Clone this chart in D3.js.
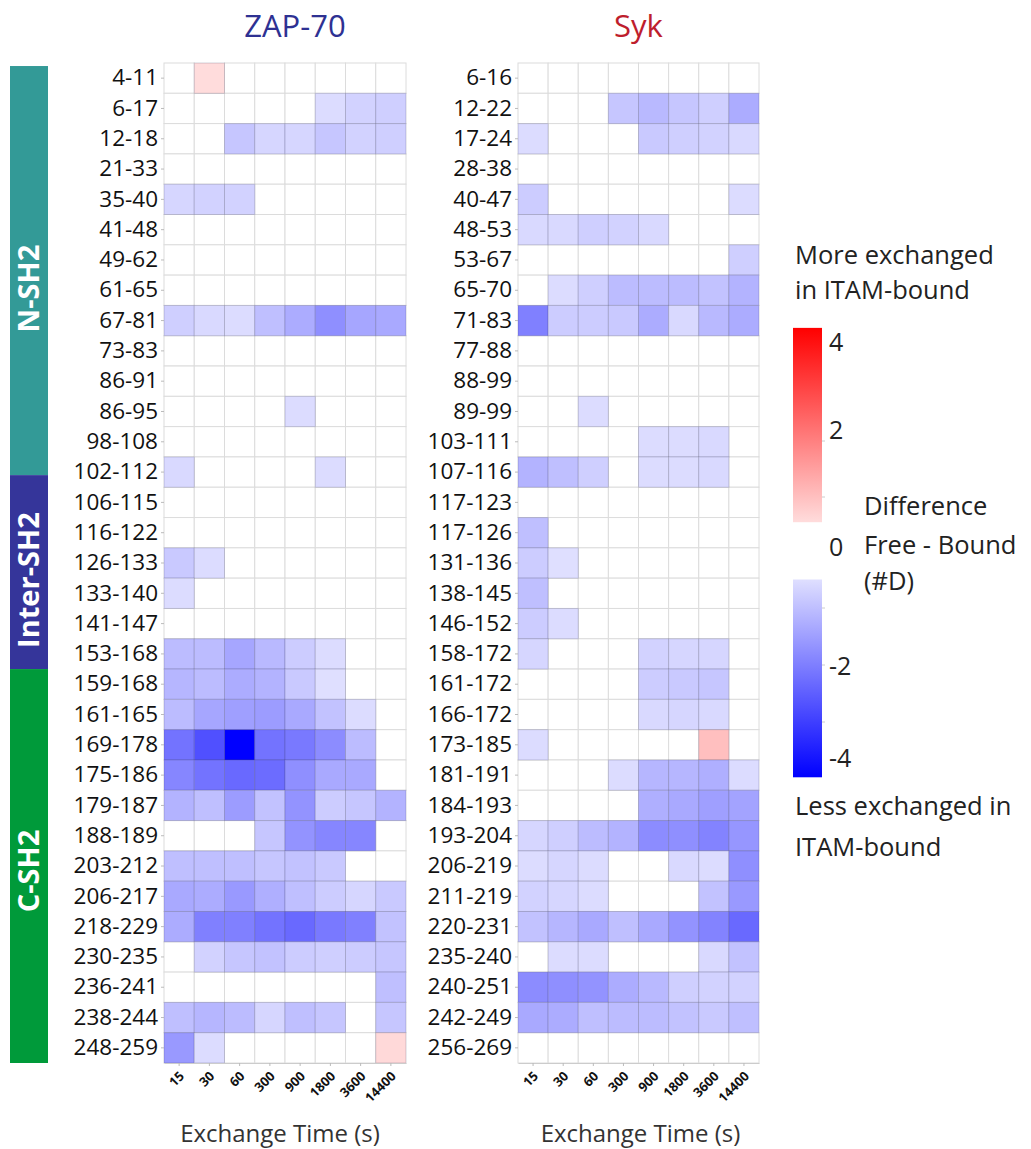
<!DOCTYPE html>
<html>
<head>
<meta charset="utf-8">
<script src="https://cdn.jsdelivr.net/npm/d3@7"></script>
<style>
  body { margin: 0; background: #fff; }
  svg { display: block; font-family: "Open Sans", sans-serif; }
</style>
</head>
<body>
<div id="chart"></div>
<script>
// exchange time columns
const times = ["15", "30", "60", "300", "900", "1800", "3600", "14400"];

// ZAP-70 peptides and difference values (#D, free - bound)
const zapRows = ["4-11", "6-17", "12-18", "21-33", "35-40", "41-48", "49-62", "61-65", "67-81", "73-83",
  "86-91", "86-95", "98-108", "102-112", "106-115", "116-122", "126-133", "133-140", "141-147",
  "153-168", "159-168", "161-165", "169-178", "175-186", "179-187", "188-189", "203-212", "206-217",
  "218-229", "230-235", "236-241", "238-244", "248-259"];
const zapValues = [
  [0, 0.55, 0, 0, 0, 0, 0, 0],
  [0, 0, 0, 0, 0, -0.55, -0.7, -0.75],
  [0, 0, -0.9, -0.65, -0.65, -0.9, -0.7, -0.75],
  [0, 0, 0, 0, 0, 0, 0, 0],
  [-0.65, -0.7, -0.7, 0, 0, 0, 0, 0],
  [0, 0, 0, 0, 0, 0, 0, 0],
  [0, 0, 0, 0, 0, 0, 0, 0],
  [0, 0, 0, 0, 0, 0, 0, 0],
  [-0.75, -0.6, -0.55, -1.0, -1.3, -1.75, -1.4, -1.35],
  [0, 0, 0, 0, 0, 0, 0, 0],
  [0, 0, 0, 0, 0, 0, 0, 0],
  [0, 0, 0, 0, -0.55, 0, 0, 0],
  [0, 0, 0, 0, 0, 0, 0, 0],
  [-0.6, 0, 0, 0, 0, -0.55, 0, 0],
  [0, 0, 0, 0, 0, 0, 0, 0],
  [0, 0, 0, 0, 0, 0, 0, 0],
  [-0.85, -0.55, 0, 0, 0, 0, 0, 0],
  [-0.55, 0, 0, 0, 0, 0, 0, 0],
  [0, 0, 0, 0, 0, 0, 0, 0],
  [-1.05, -1.05, -1.4, -1.1, -0.8, -0.55, 0, 0],
  [-1.15, -1.05, -1.3, -1.2, -0.85, -0.5, 0, 0],
  [-1.05, -1.4, -1.5, -1.55, -1.35, -0.95, -0.55, 0],
  [-2.2, -2.75, -4.0, -2.2, -2.1, -1.8, -1.05, 0],
  [-1.9, -2.2, -2.35, -2.3, -1.75, -1.35, -1.35, 0],
  [-1.2, -1.0, -1.55, -0.95, -1.7, -0.8, -0.9, -1.2],
  [0, 0, 0, -0.9, -1.7, -1.9, -1.9, 0],
  [-1.0, -1.0, -1.0, -0.9, -0.95, -0.85, 0, 0],
  [-1.35, -1.3, -1.6, -1.25, -1.0, -0.8, -0.65, -0.85],
  [-1.3, -2.0, -2.0, -2.2, -2.35, -2.1, -2.0, -0.95],
  [0, -0.7, -0.9, -0.95, -0.8, -0.75, -0.8, -0.9],
  [0, 0, 0, 0, 0, 0, 0, -1.0],
  [-1.0, -1.15, -1.05, -0.65, -1.0, -0.9, 0, -0.9],
  [-1.6, -0.55, 0, 0, 0, 0, 0, 0.6]
];

// Syk peptides and difference values
const sykRows = ["6-16", "12-22", "17-24", "28-38", "40-47", "48-53", "53-67", "65-70", "71-83", "77-88",
  "88-99", "89-99", "103-111", "107-116", "117-123", "117-126", "131-136", "138-145", "146-152",
  "158-172", "161-172", "166-172", "173-185", "181-191", "184-193", "193-204", "206-219", "211-219",
  "220-231", "235-240", "240-251", "242-249", "256-269"];
const sykValues = [
  [0, 0, 0, 0, 0, 0, 0, 0],
  [0, 0, 0, -0.9, -1.1, -0.9, -0.75, -1.3],
  [-0.55, 0, 0, 0, -0.85, -0.75, -0.7, -0.6],
  [0, 0, 0, 0, 0, 0, 0, 0],
  [-0.8, 0, 0, 0, 0, 0, 0, -0.55],
  [-0.6, -0.6, -0.75, -0.7, -0.6, 0, 0, 0],
  [0, 0, 0, 0, 0, 0, 0, -0.75],
  [0, -0.55, -0.75, -1.05, -1.05, -1.05, -0.95, -1.2],
  [-2.0, -0.8, -0.8, -0.85, -1.3, -0.6, -1.1, -1.3],
  [0, 0, 0, 0, 0, 0, 0, 0],
  [0, 0, 0, 0, 0, 0, 0, 0],
  [0, 0, -0.55, 0, 0, 0, 0, 0],
  [0, 0, 0, 0, -0.55, -0.55, -0.6, 0],
  [-1.2, -1.0, -0.75, 0, -0.55, -0.55, -0.6, 0],
  [0, 0, 0, 0, 0, 0, 0, 0],
  [-1.0, 0, 0, 0, 0, 0, 0, 0],
  [-0.8, -0.5, 0, 0, 0, 0, 0, 0],
  [-1.0, 0, 0, 0, 0, 0, 0, 0],
  [-0.8, -0.55, 0, 0, 0, 0, 0, 0],
  [-0.65, 0, 0, 0, -0.7, -0.65, -0.65, 0],
  [0, 0, 0, 0, -0.8, -0.85, -0.9, 0],
  [0, 0, 0, 0, -0.6, -0.65, -0.6, 0],
  [-0.55, 0, 0, 0, 0, 0, 1.0, 0],
  [0, 0, 0, -0.55, -1.15, -1.15, -1.25, -0.55],
  [0, 0, 0, 0, -1.25, -1.35, -1.5, -1.45],
  [-0.65, -0.75, -1.05, -1.2, -1.8, -1.75, -1.95, -1.65],
  [-0.55, -0.65, -0.55, 0, 0, -0.6, -0.55, -1.75],
  [-0.7, -0.65, -0.55, 0, 0, 0, -0.95, -1.6],
  [-0.95, -1.15, -1.35, -1.0, -1.35, -1.7, -1.95, -2.35],
  [0, -0.55, -0.55, 0, 0, 0, -0.6, -0.95],
  [-1.8, -1.75, -1.7, -1.3, -1.1, -0.75, -0.7, -0.7],
  [-1.35, -1.3, -1.0, -1.05, -1.05, -0.95, -0.85, -1.0],
  [0, 0, 0, 0, 0, 0, 0, 0]
];

// domain bar (in row units of the heatmap)
const domainNames = ["N-SH2", "Inter-SH2", "C-SH2"];
const domainStart = [0.1, 13.6, 20.0];
const domainEnd = [13.6, 20.0, 33.0];

const domainColor = d3.scaleOrdinal()
  .domain(domainNames)
  .range(["#339a97", "#35359a", "#009a3a"]);

const color = d3.scaleLinear()
  .domain([-4, 0, 4])
  .range(["#0000ff", "#ffffff", "#ff0000"])
  .clamp(true);

const width = 1031, height = 1149;
const plotTop = 63, plotBottom = 1063;

const svg = d3.select("#chart").append("svg")
  .attr("width", width)
  .attr("height", height);

function heatmap(rows, values, left, right, title, titleColor, titleShift, xTitleShift) {
  const x = d3.scaleBand().domain(times).range([left, right]);
  const y = d3.scaleBand().domain(rows).range([plotTop, plotBottom]);
  const g = svg.append("g");

  const cells = [];
  rows.forEach((r, i) => times.forEach((t, j) => cells.push({ r, t, v: values[i][j] })));

  // white cells first so coloured borders sit on top
  cells.sort((a, b) => (a.v !== 0) - (b.v !== 0));

  g.selectAll("rect")
    .data(cells)
    .join("rect")
      .attr("x", d => x(d.t))
      .attr("y", d => y(d.r))
      .attr("width", x.bandwidth())
      .attr("height", y.bandwidth())
      .attr("fill", d => color(d.v))
      .attr("stroke", d => d.v === 0 ? "#dcdcdc" : "rgba(60,60,90,0.22)")
      .attr("stroke-width", 1);

  const ya = g.append("g")
    .attr("transform", `translate(${left},0)`)
    .call(d3.axisLeft(y).tickSize(3).tickPadding(3));
  ya.select(".domain").remove();
  ya.selectAll("line").attr("stroke", "#bbb");
  ya.selectAll("text")
    .attr("font-size", 22.5)
    .attr("fill", "#111")
    .style("font-family", "'Open Sans', sans-serif");

  const xa = g.append("g")
    .attr("transform", `translate(0,${plotBottom})`)
    .call(d3.axisBottom(x).tickSize(3).tickSizeOuter(0));
  xa.select(".domain").attr("stroke", "#ccc");
  xa.selectAll("line").attr("stroke", "#bbb");
  xa.selectAll("text")
    .attr("font-size", 13)
    .attr("font-weight", "bold")
    .attr("fill", "#111")
    .attr("text-anchor", "end")
    .attr("y", 0)
    .attr("dy", 0)
    .attr("transform", "translate(6,14) rotate(-45)")
    .style("font-family", "'Open Sans', sans-serif");

  svg.append("text")
    .attr("x", (left + right) / 2 + titleShift)
    .attr("y", 37)
    .attr("text-anchor", "middle")
    .attr("font-size", 31)
    .attr("fill", titleColor)
    .text(title);

  svg.append("text")
    .attr("x", (left + right) / 2 + xTitleShift)
    .attr("y", 1142)
    .attr("text-anchor", "middle")
    .attr("font-size", 24)
    .attr("fill", "#333")
    .text("Exchange Time (s)");

  return y;
}

heatmap(zapRows, zapValues, 164, 406, "ZAP-70", "#2e3192", 10, -5);
heatmap(sykRows, sykValues, 518, 759, "Syk", "#be1e2d", 0, 2);

// domain bar
const rowY = d3.scaleLinear().domain([0, 33]).range([plotTop, plotBottom]);
const dom = svg.append("g");
domainNames.forEach((name, i) => {
  const y0 = rowY(domainStart[i]), y1 = rowY(domainEnd[i]);
  dom.append("rect")
    .attr("x", 10).attr("y", y0)
    .attr("width", 38).attr("height", y1 - y0)
    .attr("fill", domainColor(name));
  const cy = (y0 + y1) / 2 + (i === 0 ? 18 : i === 1 ? 8 : 5);
  dom.append("text")
    .attr("transform", `translate(29,${cy}) rotate(-90)`)
    .attr("text-anchor", "middle")
    .attr("dy", "0.36em")
    .attr("font-size", 29)
    .attr("font-weight", "bold")
    .attr("fill", "#fff")
    .text(name);
});

// legend
const leg = svg.append("g");
const barX = 793, barW = 29;
const redY = d3.scaleLinear().domain([1, 2]).range([497, 441]);
const blueY = d3.scaleLinear().domain([-1, -2]).range([608, 665]);

const defs = svg.append("defs");
const gradRed = defs.append("linearGradient").attr("id", "gradRed")
  .attr("x1", 0).attr("y1", 1).attr("x2", 0).attr("y2", 0);
gradRed.append("stop").attr("offset", 0).attr("stop-color", color(0.55));
gradRed.append("stop").attr("offset", 1).attr("stop-color", color(4));
const gradBlue = defs.append("linearGradient").attr("id", "gradBlue")
  .attr("x1", 0).attr("y1", 0).attr("x2", 0).attr("y2", 1);
gradBlue.append("stop").attr("offset", 0).attr("stop-color", color(-0.5));
gradBlue.append("stop").attr("offset", 1).attr("stop-color", color(-4));

leg.append("rect").attr("x", barX).attr("y", redY(4.02)).attr("width", barW)
  .attr("height", redY(0.55) - redY(4.02)).attr("fill", "url(#gradRed)");
leg.append("rect").attr("x", barX).attr("y", blueY(-0.5)).attr("width", barW)
  .attr("height", blueY(-3.97) - blueY(-0.5)).attr("fill", "url(#gradBlue)");

[1, 2].forEach(v => leg.append("line")
  .attr("x1", barX + barW).attr("x2", barX + barW + 3)
  .attr("y1", redY(v)).attr("y2", redY(v)).attr("stroke", "#ccc"));
[-1, -2, -3].forEach(v => leg.append("line")
  .attr("x1", barX + barW).attr("x2", barX + barW + 3)
  .attr("y1", blueY(v)).attr("y2", blueY(v)).attr("stroke", "#ccc"));

const legText = (x, y, t, size) => leg.append("text")
  .attr("x", x).attr("y", y).attr("dy", "0.35em")
  .attr("font-size", size || 25.5).attr("fill", "#222").text(t);

// tick labels sit a little off their tick marks in the original
legText(829, 342, "4", 25);
legText(829, 430, "2", 25);
legText(829, 547, "0", 25);
legText(829, 666, "-2", 25);
legText(829, 758, "-4", 25);

legText(795, 255, "More exchanged");
legText(795, 290, "in ITAM-bound");
legText(864, 506, "Difference");
legText(864, 545, "Free - Bound");
legText(864, 581, "(#D)");
legText(795, 806, "Less exchanged in");
legText(795, 847, "ITAM-bound");
</script>
</body>
</html>
